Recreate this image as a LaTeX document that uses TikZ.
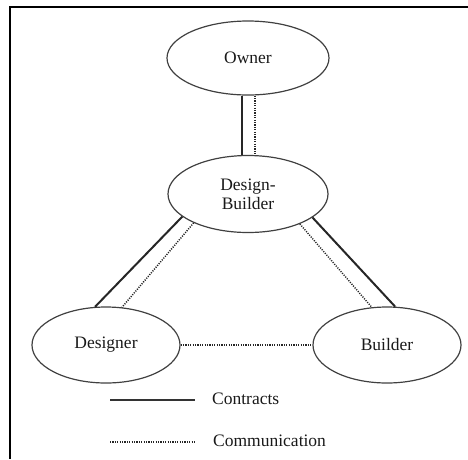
\documentclass[tikz,border=0pt]{standalone}
\usepackage{fontspec}
\setmainfont{Liberation Serif}
\usetikzlibrary{shapes.geometric}
\begin{document}
\begin{tikzpicture}[x=1pt,y=-1pt,
  party/.style={ellipse,draw=black!75,line width=1.2pt,inner sep=0pt,
    text=black!90,font=\fontsize{17.5}{19}\selectfont,align=center},
  contract/.style={draw=black!85,line width=2pt},
  comm/.style={draw=black!85,line width=1.5pt,dash pattern=on 1.1pt off 1.3pt},
  legendtext/.style={anchor=west,inner sep=0pt,text=black!90,font=\fontsize{17.5}{19}\selectfont}]
\useasboundingbox (0,0) rectangle (468,459);
% frame lines (top and left only)
\coordinate (ftl) at (10,6.5);
\coordinate (ftr) at (468,6.5);
\coordinate (fbl) at (10,459);
\draw[line width=2pt,black] (ftr) -- (ftl) -- (fbl);
% parties
\node[party,minimum width=162pt,minimum height=74pt] (owner) at (248,58) {Owner};
\node[party,minimum width=160pt,minimum height=77pt] (db) at (248,194) {Design-\\Builder};
\node[party,minimum width=148pt,minimum height=76pt] (designer) at (106,345) {Designer};
\node[party,minimum width=148pt,minimum height=76pt] (builder) at (387,345) {Builder};
% owner -- design-builder
\draw[contract] ([xshift=-6pt]owner.south) -- ([xshift=-6pt]db.north);
\draw[comm] ([xshift=7pt]owner.south) -- ([xshift=7pt]db.north);
% design-builder -- designer
\draw[contract] (db.199) -- (designer.106.6);
\draw[comm] (db.208.7) -- (designer.67);
% design-builder -- builder
\draw[contract] (db.340) -- (builder.78);
\draw[comm] (db.330) -- (builder.112);
% designer -- builder
\draw[comm] (designer.east) -- (builder.west);
% legend
\node[legendtext] (lcon) at (212,399) {Contracts};
\node[legendtext] (lcom) at (213,441) {Communication};
\coordinate (lca) at (110,400);
\coordinate (lcb) at (195,400);
\coordinate (lma) at (110,442);
\coordinate (lmb) at (195,442);
\draw[contract,line width=2.4pt,draw=black!80] (lca) -- (lcb);
\draw[comm] (lma) -- (lmb);
\end{tikzpicture}
\end{document}
